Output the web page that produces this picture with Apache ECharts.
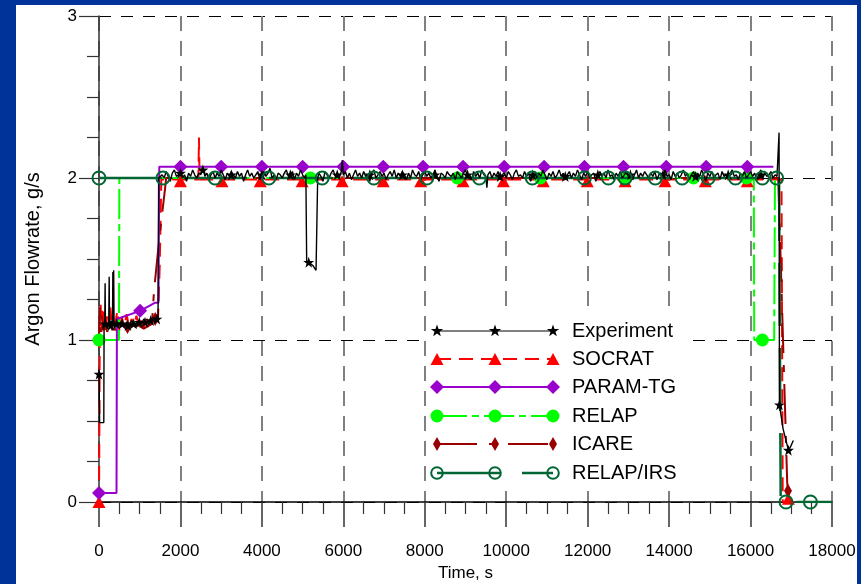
<!DOCTYPE html>
<html><head><meta charset="utf-8">
<script src="https://cdn.jsdelivr.net/npm/echarts@6/dist/echarts.min.js"></script>
<style>
html,body{margin:0;padding:0;background:#003399;}
#wrap{position:relative;width:861px;height:584px;background:#003399;overflow:hidden;}
#paper{position:absolute;left:16px;top:5px;width:841px;height:579px;background:#ffffff;}
#chart{position:absolute;left:0;top:0;width:861px;height:584px;}
</style></head><body>
<div id="wrap"><div id="paper"></div><div id="chart"></div></div>
<script>
// ---------------- data (time s, argon flowrate g/s) ----------------
const xMin = 0, xMax = 18000, xStep = 2000;
const yMin = 0, yMax = 3, yStep = 1;
const seriesNames = ['Experiment', 'SOCRAT', 'PARAM-TG', 'RELAP', 'ICARE', 'RELAP/IRS'];

const experimentLine = [
  [0,0.80],[10,0.79],[15,0.49],[118,0.49],[125,1.10],[140,1.08],[150,1.35],[158,1.09],[180,1.11],[210,1.07],
  [240,1.12],[250,1.39],[258,1.10],[280,1.08],[300,1.12],[330,1.06],[340,1.42],[348,1.09],[360,1.43],[370,1.10],
  [400,1.08],[450,1.11],[500,1.09],[560,1.12],[620,1.08],[680,1.11],[740,1.09],[800,1.12],[860,1.10],[920,1.08],
  [980,1.12],[1040,1.10],[1100,1.13],[1160,1.10],[1220,1.12],[1280,1.11],[1340,1.14],[1400,1.12],[1450,1.13],[1465,2.00],
  [1500,1.99],[1550,2.02],[1600,2.00],[1650,2.04],[1700,2.01],[1750,1.98],[1800,2.03],[1850,2.05],[1900,2.01],[1950,2.02],
  [2000,2.04],[2050,2.00],[2100,2.02],[2150,1.98],[2200,2.03],[2250,2.01],[2300,2.05],[2350,2.02],[2400,2.00],[2450,2.03],
  [2500,2.02],[2550,2.07],[2600,2.01],[2650,2.03],[2700,1.99],[2750,2.02],[2800,2.04],[2850,2.00],[2900,2.03],[2950,2.01],
  [3000,2.05],[3050,2.02],[3100,1.99],[3150,2.03],[3200,2.01],[3250,2.04],[3300,2.02],[3350,2.00],[3400,2.04],[3450,2.01],
  [3500,2.03],[3550,1.98],[3600,2.02],[3650,2.05],[3700,2.01],[3750,2.03],[3800,2.00],[3850,2.02],[3900,2.04],[3950,1.99],
  [4000,2.02],[4050,2.04],[4100,2.01],[4150,2.03],[4200,2.06],[4250,2.00],[4300,2.02],[4350,1.99],[4400,2.03],[4450,2.02],
  [4500,2.00],[4550,2.03],[4600,2.05],[4650,2.01],[4700,2.02],[4750,2.04],[4800,1.99],[4850,2.03],[4900,2.01],[4950,2.05],
  [5000,2.02],[5050,2.00],[5080,2.02],[5100,1.48],[5150,1.48],[5200,1.47],[5250,1.46],[5290,1.45],[5330,1.43],[5370,2.00],
  [5400,2.03],[5450,2.01],[5500,1.98],[5550,2.04],[5600,2.02],[5650,2.00],[5700,2.03],[5750,2.05],[5800,2.01],[5850,2.03],
  [5900,2.00],[5950,2.04],[5975,2.11],[6000,2.02],[6050,2.04],[6100,2.00],[6150,2.03],[6200,1.99],[6250,2.02],[6300,2.05],
  [6350,2.01],[6400,2.03],[6450,2.00],[6500,2.04],[6550,2.01],[6600,2.02],[6650,1.98],[6700,2.03],[6750,2.05],[6800,2.00],
  [6850,2.02],[6900,2.04],[6950,2.01],[7000,2.03],[7050,1.99],[7100,2.02],[7150,2.04],[7200,2.01],[7250,2.05],[7300,2.00],
  [7350,2.03],[7400,2.01],[7450,2.04],[7500,2.02],[7550,1.99],[7600,2.03],[7650,2.00],[7700,2.05],[7750,2.02],[7800,2.01],
  [7850,2.04],[7900,1.99],[7950,2.02],[8000,2.04],[8050,2.01],[8100,2.03],[8150,2.00],[8200,2.02],[8250,2.05],[8300,2.01],
  [8350,1.98],[8400,2.03],[8450,2.02],[8500,2.00],[8550,2.04],[8600,2.02],[8650,2.01],[8700,2.03],[8750,1.99],[8800,2.04],
  [8850,2.02],[8900,2.00],[8950,2.03],[9000,2.05],[9050,2.01],[9100,2.02],[9150,1.99],[9200,2.04],[9250,2.01],[9300,2.03],
  [9350,2.00],[9400,2.05],[9450,2.02],[9500,2.01],[9525,1.94],[9550,2.02],[9600,2.04],[9650,2.00],[9700,2.03],[9750,2.01],
  [9800,2.04],[9850,1.99],[9900,2.02],[9950,2.03],[10000,2.00],[10050,2.04],[10100,2.02],[10150,1.99],[10200,2.03],[10250,2.05],
  [10300,2.01],[10350,2.02],[10400,2.00],[10450,2.04],[10500,2.01],[10550,2.03],[10600,1.98],[10650,2.02],[10700,2.04],[10750,2.00],
  [10800,2.03],[10850,2.01],[10900,2.05],[10950,2.02],[11000,1.99],[11050,2.03],[11100,2.01],[11150,2.04],[11200,2.00],[11250,2.02],
  [11300,2.05],[11350,2.01],[11400,2.03],[11450,1.99],[11500,2.02],[11550,2.04],[11600,2.00],[11650,2.03],[11700,2.01],[11750,2.05],
  [11800,2.02],[11850,1.99],[11900,2.03],[11950,2.01],[12000,2.04],[12050,2.00],[12100,2.02],[12150,2.03],[12200,1.98],[12250,2.02],
  [12300,2.04],[12350,2.01],[12400,2.03],[12450,2.00],[12500,2.05],[12550,2.01],[12600,2.02],[12650,1.99],[12700,2.03],[12750,2.01],
  [12800,2.04],[12850,2.00],[12900,2.02],[12950,2.04],[13000,2.01],[13050,2.03],[13100,1.99],[13150,2.02],[13200,2.05],[13250,2.00],
  [13300,2.03],[13350,2.01],[13400,2.04],[13450,2.02],[13500,2.00],[13550,2.03],[13600,2.01],[13650,2.04],[13700,1.99],[13750,2.02],
  [13800,2.03],[13850,2.00],[13900,2.05],[13950,2.01],[14000,2.02],[14050,1.99],[14100,2.04],[14150,2.01],[14200,2.03],[14250,2.00],
  [14300,2.02],[14350,2.05],[14400,2.01],[14450,2.03],[14500,1.99],[14550,2.02],[14600,2.04],[14650,2.00],[14700,2.03],[14750,2.01],
  [14800,2.05],[14850,2.02],[14900,1.98],[14950,2.03],[15000,2.01],[15050,2.04],[15100,2.00],[15150,2.02],[15200,2.03],[15250,1.99],
  [15300,2.04],[15350,2.01],[15400,2.02],[15450,2.00],[15500,2.03],[15550,2.05],[15600,2.01],[15650,2.02],[15700,1.99],[15750,2.03],
  [15800,2.01],[15850,2.04],[15900,2.00],[15950,2.02],[16000,2.04],[16050,2.01],[16100,2.03],[16150,1.99],[16200,2.02],[16250,2.05],
  [16300,2.00],[16350,2.03],[16400,2.01],[16450,2.02],[16500,2.04],[16550,2.00],[16600,2.02],[16650,2.01],[16690,2.01],[16700,2.28],
  [16710,0.60],[16800,0.45],[16930,0.32],[16980,0.34],[17050,0.38]
];
const experimentMarks = [
  [0,0.79],[150,1.10],[290,1.09],[430,1.10],[570,1.10],[710,1.09],[850,1.10],[990,1.11],[1130,1.11],[1270,1.12],[1420,1.13],
  [2000,2.03],[2550,2.05],[3250,2.02],[4000,2.02],[4700,2.02],[5150,1.48],[5850,2.02],[6650,2.02],[7450,2.02],[8250,2.02],
  [9050,2.02],[9850,2.01],[10650,2.02],[11450,2.01],[12250,2.02],[13050,2.02],[13850,2.02],[14650,2.01],[15450,2.02],[16250,2.02],
  [16710,0.60],[16930,0.32]
];

const socratLine = [
  [0,0.00],[10,0.50],[20,1.10],[40,1.22],[60,1.05],[80,1.18],[100,1.08],[130,1.20],[160,1.05],[200,1.15],
  [240,1.08],[280,1.20],[320,1.06],[360,1.15],[400,1.10],[450,1.18],[500,1.06],[560,1.14],[620,1.08],[680,1.16],
  [740,1.07],[800,1.13],[860,1.09],[920,1.15],[980,1.08],[1040,1.12],[1100,1.07],[1160,1.14],[1220,1.09],[1280,1.13],
  [1340,1.10],[1400,1.12],[1450,1.14],[1490,1.45],[1530,1.99],[2440,1.99],[2455,2.25],[2470,1.99],[16760,1.99],[16790,0.00],
  [17220,0.00]
];
const socratMarks = [
  [0,0.00],[2000,1.98],[3020,1.98],[3960,1.98],[4990,1.98],[5970,1.98],[6980,1.98],[7900,1.98],[8940,1.98],[9930,1.98],
  [10910,1.98],[11990,1.98],[12920,1.98],[13900,1.98],[14890,1.98],[15920,1.98],[16930,0.02]
];

const paramLine = [
  [0,0.055],[430,0.055],[440,1.13],[1010,1.18],[1380,1.23],[1460,1.23],[1480,2.07],[16560,2.07]
];
const paramMarks = [
  [0,0.055],[1010,1.18],[2000,2.07],[3000,2.07],[4000,2.07],[5000,2.07],[6000,2.07],[6980,2.07],[7960,2.07],[8940,2.07],
  [9950,2.07],[10930,2.07],[11920,2.07],[12880,2.07],[13930,2.07],[14910,2.07],[15920,2.07]
];

const relapLine = [
  [0,1.00],[490,1.00],[500,2.00],[16080,2.00],[16090,1.00],[16580,1.00],[16600,2.00],[16680,2.00]
];
const relapMarks = [
  [0,1.00],[5190,2.00],[8800,2.00],[10840,2.00],[12900,2.00],[14600,2.00],[15900,2.00],[16290,1.00]
];

const icareLine = [
  [0,1.00],[20,1.20],[40,1.05],[70,1.15],[100,1.06],[150,1.12],[200,1.05],[300,1.10],[400,1.06],[500,1.10],
  [700,1.07],[900,1.10],[1100,1.07],[1300,1.10],[1350,1.30],[1450,1.55],[1550,1.78],[1620,1.93],[1650,2.00],[16680,2.00],
  [16900,0.12],[16920,0.06]
];
const icareMarks = [
  [700,1.08],[1380,1.13],[16920,0.07]
];

const irsLine = [
  [0,2.00],[16700,2.00],[16740,0.00],[18000,0.00]
];
const irsMarks = [
  [0,2.00],[1570,2.00],[2850,2.00],[4170,2.00],[5480,2.00],[6750,2.00],[8050,2.00],[9340,2.00],[10640,2.00],[11920,2.00],
  [12510,2.00],[12920,2.00],[13660,2.00],[14320,2.00],[14960,2.00],[15630,2.00],[16290,2.00],[16640,2.00],[16870,0.00],[17470,0.00]
];

// ---------------- styles ----------------
const FONT = '"Liberation Sans", Arial, sans-serif';
const STAR = 'path://M50,0 L61.8,35.1 98.5,35.1 69.1,56.7 79.4,91.9 50,70 20.6,91.9 30.9,56.7 1.5,35.1 38.2,35.1 Z';
const styles = [
  {color:'#000000', width:1.4, dash:'solid', symbol:STAR, size:11, fill:'#000000'},
  {color:'#ff0000', width:2, dash:[14,8], symbol:'triangle', size:[13,12], fill:'#ff0000'},
  {color:'#9900cc', width:2, dash:'solid', symbol:'diamond', size:[14,14], fill:'#9900cc'},
  {color:'#00ff00', width:2, dash:[30,5,7,5], symbol:'circle', size:13, fill:'#00ff00'},
  {color:'#990000', width:2, dash:[40,12,7,12], symbol:'diamond', size:[8,14], fill:'#990000'},
  {color:'#006633', width:2.5, dash:[63,22], symbol:'circle', size:13, fill:'rgba(0,0,0,0)'}
];
const lines = [experimentLine, socratLine, paramLine, relapLine, icareLine, irsLine];
const marks = [experimentMarks, socratMarks, paramMarks, relapMarks, icareMarks, irsMarks];
const lineZ = [6, 2, 4, 2, 3, 5];
const markZ = [7, 3, 5, 3, 4, 8];

const series = [];
seriesNames.forEach((name, i) => {
  const s = styles[i];
  series.push({
    name: name, type: 'line', data: lines[i], showSymbol: false, z: lineZ[i],
    lineStyle: {color: s.color, width: s.width, type: s.dash}, itemStyle: {color: s.color}
  });
  series.push({
    name: name + ' markers', type: 'scatter', data: marks[i], symbol: s.symbol, symbolSize: s.size, z: markZ[i],
    itemStyle: {color: s.fill, borderColor: s.color, borderWidth: i === 5 ? 2 : 0, opacity: 1}
  });
});

// ---------------- legend (drawn as graphic) ----------------
const legendRowsY = [331, 359, 387, 416, 444, 473];
const legendMarkX = [437, 495, 553];
const legendTextX = 572;
function starPts(cx, cy, R, r) {
  const p = [];
  for (let k = 0; k < 10; k++) {
    const a = -Math.PI / 2 + k * Math.PI / 5, rr = k % 2 ? r : R;
    p.push([cx + rr * Math.cos(a), cy + rr * Math.sin(a)]);
  }
  return p;
}
function legendSymbol(i, cx, cy) {
  const s = styles[i];
  if (s.symbol === STAR) return {type:'polygon', z:52, shape:{points:starPts(cx, cy, 6.5, 2.6)}, style:{fill:s.color}};
  if (s.symbol === 'triangle') return {type:'polygon', z:52, shape:{points:[[cx,cy-6],[cx+6.5,cy+6],[cx-6.5,cy+6]]}, style:{fill:s.color}};
  if (s.symbol === 'diamond') {
    const w = s.size[0] / 2, h = s.size[1] / 2;
    return {type:'polygon', z:52, shape:{points:[[cx,cy-h],[cx+w,cy],[cx,cy+h],[cx-w,cy]]}, style:{fill:s.color}};
  }
  if (i === 5) return {type:'circle', z:52, shape:{cx:cx, cy:cy, r:5.8}, style:{fill:'rgba(0,0,0,0)', stroke:s.color, lineWidth:2}};
  return {type:'circle', z:52, shape:{cx:cx, cy:cy, r:6.5}, style:{fill:s.color}};
}
const graphics = [{type:'rect', z:50, shape:{x:427, y:307, width:258, height:183}, style:{fill:'#ffffff'}}];
seriesNames.forEach((name, i) => {
  const s = styles[i], y = legendRowsY[i];
  graphics.push({type:'line', z:51, shape:{x1:legendMarkX[0], y1:y, x2:legendMarkX[2], y2:y},
    style:{stroke:s.color, lineWidth: i === 0 ? 1 : s.width, lineDash: s.dash === 'solid' ? null : s.dash}});
  legendMarkX.forEach(x => graphics.push(legendSymbol(i, x, y)));
  graphics.push({type:'text', z:52, x:legendTextX, y:y, style:{text:name, fill:'#000', font:'20px ' + FONT, textVerticalAlign:'middle', verticalAlign:'middle'}});
});

// ---------------- chart ----------------
const chart = echarts.init(document.getElementById('chart'), null, {renderer:'canvas'});
chart.setOption({
  animation: false,
  backgroundColor: 'transparent',
  grid: {left: 99, right: 29, top: 16, bottom: 82, containLabel: false, outerBoundsMode: 'none'},
  xAxis: {
    type: 'value', min: xMin, max: xMax, interval: xStep,
    name: 'Time, s', nameLocation: 'middle', nameGap: 62,
    nameTextStyle: {color:'#000', fontSize:17, fontFamily: FONT},
    axisLine: {show:true, onZero:false, lineStyle:{color:'#000', width:1.5}},
    axisTick: {show:true, inside:false, length:25, lineStyle:{color:'#333', width:1.5}},
    minorTick: {show:true, splitNumber:4, length:12, lineStyle:{color:'#333', width:1.2}},
    axisLabel: {color:'#000', fontSize:17, fontFamily: FONT, margin: 41, formatter: v => String(v)},
    splitLine: {show:true, lineStyle:{color:'#808080', width:2, type:[15,10]}}
  },
  yAxis: {
    type: 'value', min: yMin, max: yMax, interval: yStep,
    name: 'Argon Flowrate, g/s', nameLocation: 'middle', nameGap: 56,
    nameTextStyle: {color:'#000', fontSize:20, fontFamily: FONT},
    axisLine: {show:true, onZero:false, lineStyle:{color:'#333', width:1.5}},
    axisTick: {show:true, inside:false, length:20, lineStyle:{color:'#333', width:1.2}},
    minorTick: {show:true, splitNumber:4, length:12, lineStyle:{color:'#333', width:1.2}},
    axisLabel: {color:'#000', fontSize:17, fontFamily: FONT, margin: 22, formatter: v => String(v)},
    splitLine: {show:true, lineStyle:{color:'#000', width:1.2, type:[12,10]}}
  },
  series: series,
  graphic: {elements: graphics}
});
</script>
</body></html>
